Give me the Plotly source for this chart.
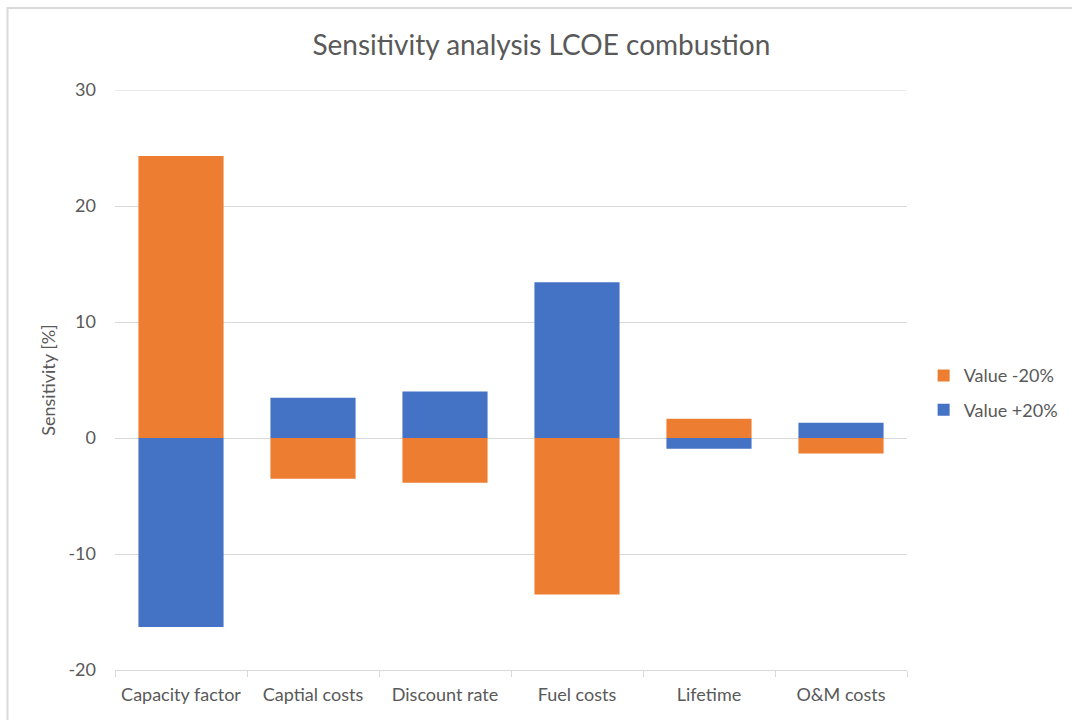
import plotly.graph_objects as go

# Sensitivity of LCOE for combustion, per input parameter (percent change)
categories = ["Capacity factor", "Captial costs", "Discount rate", "Fuel costs", "Lifetime", "O&M costs"]
value_plus_20 = [-16.3, 3.47, 4.0, 13.43, -0.92, 1.31]
value_minus_20 = [24.3, -3.52, -3.86, -13.5, 1.66, -1.34]
y_ticks = [-20, -10, 0, 10, 20, 30]
y_tick_labels = ["-20", "-10", "0", "10", "20", "30"]

BLUE = "#4472C4"
ORANGE = "#ED7D31"
GRID = "#D9D9D9"
TEXT = "#595959"
FONT = "Lato, Open Sans, sans-serif"

fig = go.Figure()
fig.add_trace(go.Bar(
    x=categories, y=value_plus_20, name="Value +20%", legendrank=2, legendgroup="plus",
    marker=dict(color=BLUE, line=dict(width=0)), width=0.645,
))
fig.add_trace(go.Bar(
    x=categories, y=value_minus_20, name="Value -20%", legendrank=1, legendgroup="minus",
    marker=dict(color=ORANGE, line=dict(width=0)), width=0.645,
))

fig.update_layout(
    width=1072, height=720,
    barmode="relative",
    plot_bgcolor="white", paper_bgcolor="white",
    margin=dict(l=115, r=165, t=90, b=50, autoexpand=False),
    font=dict(family=FONT, color=TEXT, size=18),
    title=dict(
        text="Sensitivity analysis LCOE combustion",
        x=0.505, xanchor="center", y=0.937, yanchor="middle",
        font=dict(size=28, color=TEXT, family=FONT),
    ),
    legend=dict(
        x=1.021, xanchor="left", y=0.478, yanchor="middle",
        traceorder="grouped", font=dict(size=18, color=TEXT),
        itemwidth=30, tracegroupgap=8,
    ),
    xaxis=dict(
        showline=True, linecolor=GRID, linewidth=1,
        ticks="outside", tickson="boundaries", ticklen=6, tickcolor=GRID,
        showgrid=False, tickfont=dict(size=18, color=TEXT), ticklabelstandoff=8,
    ),
    yaxis=dict(
        range=[-20, 30], tickvals=y_ticks, ticktext=y_tick_labels,
        showgrid=True, gridcolor=GRID, gridwidth=1,
        zeroline=False, showline=False, ticks="", ticklabelstandoff=18,
        tickfont=dict(size=18, color=TEXT),
        title=dict(text="Sensitivity [%]", font=dict(size=18, color=TEXT), standoff=8),
    ),
    shapes=[
        dict(type="rect", xref="paper", yref="paper",
             x0=(7.5 - 115) / 792, x1=(1100 - 115) / 792,
             y0=(670 - 740) / 580, y1=(670 - 8) / 580,
             line=dict(color=GRID, width=2), layer="below"),
        # top gridline at the upper end of the value range
        dict(type="line", xref="paper", yref="y", x0=0, x1=1, y0=y_ticks[-1], y1=y_ticks[-1],
             line=dict(color=GRID, width=1), layer="below"),
    ],
)

fig.write_html("out.html")
